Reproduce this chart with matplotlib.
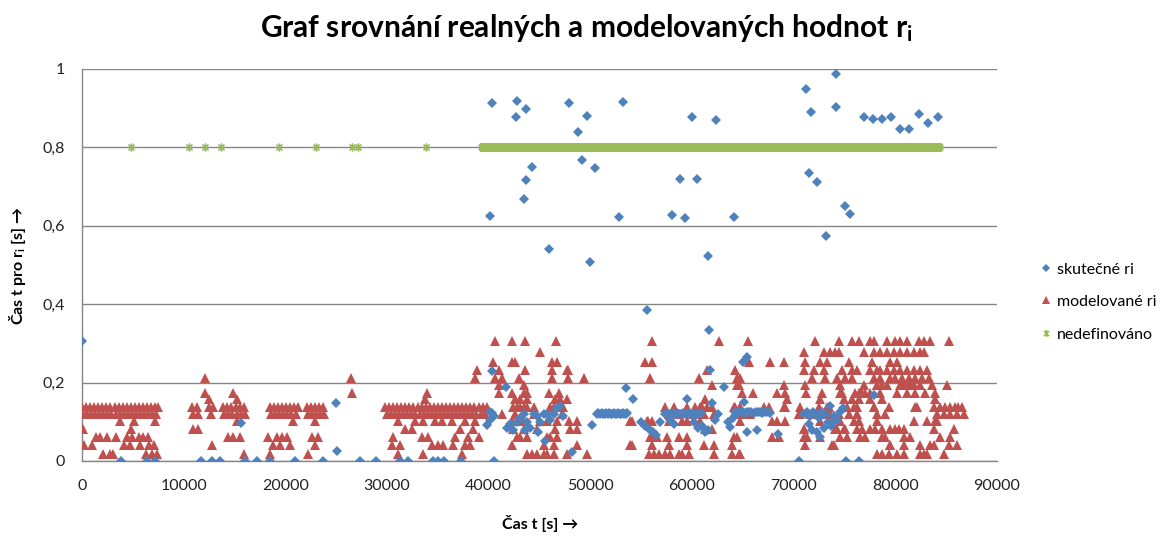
import matplotlib
matplotlib.use('Agg')
import matplotlib.pyplot as plt
from matplotlib.path import Path
from matplotlib.lines import Line2D

plt.rcParams['font.family'] = ['Lato', 'DejaVu Sans']
plt.rcParams['mathtext.default'] = 'regular'

# ---------------- data ----------------
x_ticks = [0, 10000, 20000, 30000, 40000, 50000, 60000, 70000, 80000, 90000]
x_tick_labels = ['0', '10000', '20000', '30000', '40000', '50000', '60000', '70000', '80000', '90000']
y_ticks = [0, 0.2, 0.4, 0.6, 0.8, 1.0]
y_tick_labels = ['0', '0,2', '0,4', '0,6', '0,8', '1']

# skutečné ri (blue diamonds)
blue_t = [0, 3840, 6440, 7180, 11700, 12790, 13620, 16030, 17210, 18490, 20950, 23750, 27350, 28920,
          31280, 32030, 34500, 35020, 35610, 37280, 40520, 70520, 75110, 76380,
          15630, 24950, 25050,
          40310, 40150, 42800, 43640, 42660, 44260, 43640, 43520, 45950, 47860, 48760, 49660, 49150,
          50480, 49990, 52830, 53230, 57990, 59320, 58810, 60500, 59980, 62370, 61600, 61700, 55600,
          64160, 71210, 71750, 71480, 72300, 73210, 74140, 74140, 75000, 75550,
          76920, 77810, 78640, 79540, 80440, 81380, 82320, 83220, 84150,
          39820, 40150, 40310, 40310, 40480, 40150, 41720, 42440, 42770, 43100, 43430, 43760, 44090,
          44410, 44740, 45070, 45400, 45730, 46050, 46380, 46700, 47030, 47360, 45560, 48180, 50150,
          44900, 43600, 42100, 41800,
          50650, 50800, 50950, 51100, 51250, 51400, 51550, 51700, 51850, 52000, 52150, 52300, 52450,
          52600, 52750, 52900, 53050, 53200, 53350, 53500, 53650, 53530, 54180,
          55000, 55400, 55900, 56200, 56500, 56900,
          57370, 57550, 57700, 57900, 58100, 58300, 58500, 58700, 58900, 59100, 59300, 59500, 59700,
          59900, 60100, 60300, 60500, 60700, 60900, 59500, 57800, 58200, 60200, 60600, 61000, 61300,
          61600, 61960, 61790, 63100, 62300, 62600,
          64250, 64450, 64650, 64850, 65050, 65250, 65450, 65650, 65850, 66050, 66250, 66450, 66650,
          66850, 67050, 67250, 67450, 67650, 65010, 65400, 65075, 63760, 63500, 64000, 65400, 66390,
          68500,
          70980, 71300, 71600, 71900, 72200, 72500, 72800, 73100, 73400, 73700, 74000, 74300, 74600,
          74900, 72600, 72300, 73900, 73000, 77900, 73600, 71500, 71800]
blue_r = [0.305, 0, 0, 0, 0, 0, 0, 0, 0, 0, 0, 0, 0, 0,
          0, 0, 0, 0, 0, 0, 0, 0, 0, 0,
          0.096, 0.147, 0.026,
          0.912, 0.625, 0.918, 0.897, 0.877, 0.751, 0.717, 0.669, 0.540, 0.912, 0.839, 0.880, 0.768,
          0.748, 0.508, 0.622, 0.915, 0.628, 0.619, 0.720, 0.720, 0.877, 0.870, 0.523, 0.334, 0.385,
          0.622, 0.949, 0.891, 0.734, 0.713, 0.574, 0.986, 0.904, 0.651, 0.631,
          0.877, 0.872, 0.872, 0.877, 0.846, 0.846, 0.884, 0.863, 0.877,
          0.092, 0.126, 0.230, 0.122, 0.115, 0.105, 0.188, 0.079, 0.100, 0.110, 0.120, 0.100, 0.085,
          0.120, 0.115, 0.100, 0.120, 0.120, 0.105, 0.120, 0.135, 0.140, 0.115, 0.050, 0.024, 0.092,
          0.075, 0.080, 0.095, 0.085,
          0.121, 0.123, 0.120, 0.122, 0.121, 0.119, 0.122, 0.120, 0.123, 0.121, 0.120, 0.122, 0.121,
          0.119, 0.122, 0.120, 0.121, 0.123, 0.120, 0.121, 0.122, 0.185, 0.157,
          0.100, 0.090, 0.080, 0.075, 0.066, 0.100,
          0.120, 0.122, 0.121, 0.119, 0.122, 0.120, 0.123, 0.121, 0.120, 0.122, 0.121, 0.119, 0.122,
          0.120, 0.121, 0.123, 0.120, 0.121, 0.122, 0.157, 0.105, 0.095, 0.100, 0.085, 0.090, 0.075,
          0.080, 0.149, 0.232, 0.188, 0.105, 0.120,
          0.125, 0.123, 0.126, 0.124, 0.125, 0.123, 0.126, 0.124, 0.125, 0.123, 0.126, 0.124, 0.125,
          0.123, 0.126, 0.124, 0.125, 0.123, 0.253, 0.265, 0.151, 0.087, 0.100, 0.110, 0.075, 0.080,
          0.070,
          0.120, 0.125, 0.115, 0.125, 0.120, 0.110, 0.125, 0.120, 0.100, 0.090, 0.115, 0.105, 0.125,
          0.135, 0.062, 0.075, 0.100, 0.085, 0.168, 0.140, 0.095, 0.080]

# modelované ri (red triangles): one list of times for each discrete level
red_levels = [0.018, 0.041, 0.061, 0.081, 0.103, 0.120, 0.139, 0.158, 0.174, 0.194, 0.211, 0.232,
              0.253, 0.277, 0.306]
red_t_018 = [2100, 2755, 3085, 6300, 6855, 7350, 15975, 18500, 22200, 31130, 33590, 37360, 43755,
             44250, 44740, 45400, 45730, 46380, 47690, 49660, 56220, 56710, 57370, 57860, 59010,
             59660, 55730, 58680, 62120, 63930, 64580, 64750, 78690, 80160, 82460, 82790, 83110,
             84750, 78200, 79330, 80820]
red_t_041 = [200, 950, 4165, 4720, 5710, 6625, 7085, 12760, 18830, 19480, 20465, 22900, 30470, 31290,
             34405, 35065, 35555, 36540, 37690, 38180, 42280, 45400, 46380, 48670, 54090, 56050,
             53920, 57700, 59500, 61140, 62120, 63930, 71140, 73930, 79510, 82460, 83440, 83770,
             85250, 86070, 73750, 79500, 80810]
red_t_061 = [1380, 1770, 2430, 3345, 4395, 4890, 5610, 6035, 6530, 14400, 14890, 15545, 18335,
             19155, 19645, 20140, 22600, 23250, 30635, 33420, 34080, 36700, 38015, 39000, 42770,
             43100, 43755, 45730, 46050, 46700, 56050, 56550, 55890, 57530, 58680, 59500, 64090,
             64420, 67860, 68520, 70980, 72620, 74590, 75240, 79010, 81470, 84430, 85410, 71280,
             77000, 78680, 80820, 76550]
red_t_081 = [65, 4790, 10950, 11450, 31780, 32440, 37200, 38505, 42440, 43430, 44740, 46540, 48020,
             48670, 61300, 61960, 70980, 74260, 74915, 76230, 76720, 77540, 78030, 78690, 80000,
             80330, 80820, 83770, 85740, 71000, 74100, 75080, 79500]
red_t_103 = [3740, 5120, 7180, 15220, 20795, 22900, 31130, 32770, 33590, 34735, 35390, 36375, 37690,
             38670, 42280, 42770, 43430, 45070, 45730, 46700, 47860, 48700, 54090, 55720, 56050,
             59010, 53920, 55560, 57700, 59500, 60810, 64750, 67860, 68355, 69175, 72620, 74590,
             75900, 81800, 83110, 84100, 76390, 78200, 83930]
red_t_120 = [100, 500, 900, 1300, 1700, 2100, 2500, 2900, 3300, 3700, 4100, 4500, 4900, 5300, 5700,
             6100, 6500, 6900, 7300, 10900, 11400, 12700, 14000, 14400, 14800, 15200, 15600, 16000,
             18600, 19000, 19400, 19800, 20200, 20600, 21000, 22200, 22600, 23000, 23400, 23800,
             30000, 30400, 30800, 31200, 31600, 32000, 32400, 32800, 33200, 33600, 34000, 34400,
             34800, 35200, 35600, 36000, 36400, 36800, 37200, 37600, 38000, 38400, 38800, 39200,
             39600, 41300, 42600, 44410, 47200, 57700, 58700, 60100, 61000, 61140, 62120, 64090,
             64580, 65075, 65730, 70490, 71635, 72620, 73275, 74420, 75400, 78200, 79015, 84100,
             84750, 85410, 86070, 86720, 70500, 72420, 73550, 76230]
red_t_139 = [0, 400, 800, 1200, 1600, 2000, 2400, 2800, 3200, 3600, 4000, 4400, 4800, 5200, 5600,
             6000, 6400, 6800, 7200, 7450, 10800, 11300, 12500, 12900, 13900, 14300, 14700, 15100,
             15500, 15900, 18500, 18900, 19300, 19700, 20100, 20500, 20900, 21200, 22100, 22500,
             22900, 23300, 23700, 29800, 30200, 30600, 31000, 31400, 31800, 32200, 32600, 33000,
             33400, 33800, 34200, 34600, 35000, 35400, 35800, 36200, 36600, 37000, 37400, 37800,
             38200, 38600, 39000, 39400, 39800, 42440, 42770, 43100, 43430, 43755, 44410, 46380,
             47360, 46050, 46870, 57370, 58190, 59500, 60320, 60810, 61450, 64090, 64750, 67040,
             67530, 60975, 61960, 64255, 64745, 69175, 70650, 72455, 73440, 75240, 75900, 76230,
             77865, 79340, 81966, 83770, 84420, 84920, 85400, 85900, 86200, 86600, 69010, 73270,
             77870, 82130]
red_t_158 = [15220, 33750, 42610, 43100, 43755, 46540, 47030, 47690, 61300, 69340, 72620, 74910,
             75730, 76390, 77540, 78680, 83930, 12500]
red_t_174 = [12100, 14890, 26535, 33915, 40970, 42280, 43430, 43755, 45890, 46870, 64910, 69170,
             72780, 74750, 76390, 76720, 77540, 78520, 80160, 81960, 82950, 83930, 66000, 68350,
             71240, 74590, 76060, 76550, 77050, 81150]
red_t_194 = [40970, 43430, 61960, 64420, 64580, 69010, 71140, 74590, 76880, 78200, 80490, 81140,
             81470, 82450, 83600, 78190, 78690, 79180, 80820, 81800, 85080]
red_t_211 = [12100, 26500, 38670, 40640, 41295, 42935, 46215, 47850, 49330, 55890, 60650, 64420,
             64750, 71800, 73110, 74260, 75080, 75730, 77870, 78520, 79500, 80000, 80650, 81300,
             81960, 82620, 83270]
red_t_232 = [38835, 40970, 43590, 46215, 47700, 47850, 61470, 64250, 70980, 71960, 72940, 74750,
             75730, 76230, 77540, 78200, 78520, 79180, 79840, 80490, 81140, 81800, 82450, 83100]
red_t_253 = [40475, 42280, 42610, 46215, 46705, 55400, 56050, 65570, 67700, 69010, 71140, 72620,
             73275, 75400, 77700, 79500, 80160]
red_t_277 = [45070, 70980, 72940, 73600, 74100, 74420, 76880, 77870, 78520, 79180, 79840, 80490,
             81140, 81800, 82450, 82780]
red_t_306 = [40640, 42280, 43590, 46640, 56050, 62610, 65500, 72120, 74420, 75730, 76390, 77540,
             77870, 79180, 80000, 80490, 81140, 82290, 82780, 83440, 85240]
red_times = [red_t_018, red_t_041, red_t_061, red_t_081, red_t_103, red_t_120, red_t_139,
             red_t_158, red_t_174, red_t_194, red_t_211, red_t_232, red_t_253, red_t_277, red_t_306]

# nedefinováno (green stars) at 0.8: isolated instants, then the dense run
green_value = 0.8
green_t_isolated = [4820, 10530, 12100, 13680, 19380, 23030, 26570, 27160, 33850]
green_t_run = [
    39300, 39600, 39900, 40200, 40500, 40800, 41100, 41400, 41700, 42000, 42300, 42600, 42900, 43200, 43500,
    43800, 44100, 44400, 44700, 45000, 45300, 45600, 45900, 46200, 46500, 46800, 47100, 47400, 47700, 48000,
    48300, 48600, 48900, 49200, 49500, 49800, 50100, 50400, 50700, 51000, 51300, 51600, 51900, 52200, 52500,
    52800, 53100, 53400, 53700, 54000, 54300, 54600, 54900, 55200, 55500, 55800, 56100, 56400, 56700, 57000,
    57300, 57600, 57900, 58200, 58500, 58800, 59100, 59400, 59700, 60000, 60300, 60600, 60900, 61200, 61500,
    61800, 62100, 62400, 62700, 63000, 63300, 63600, 63900, 64200, 64500, 64800, 65100, 65400, 65700, 66000,
    66300, 66600, 66900, 67200, 67500, 67800, 68100, 68400, 68700, 69000, 69300, 69600, 69900, 70200, 70500,
    70800, 71100, 71400, 71700, 72000, 72300, 72600, 72900, 73200, 73500, 73800, 74100, 74400, 74700, 75000,
    75300, 75600, 75900, 76200, 76500, 76800, 77100, 77400, 77700, 78000, 78300, 78600, 78900, 79200, 79500,
    79800, 80100, 80400, 80700, 81000, 81300, 81600, 81900, 82200, 82500, 82800, 83100, 83400, 83700, 84000,
    84300]

series_labels = ['skutečné ri', 'modelované ri', 'nedefinováno']

# ---------------- drawing ----------------
BLUE = '#4F81BD'
RED = '#C0504D'
GREEN = '#9BBB59'
GRID = '#868686'

fig = plt.figure(figsize=(11.69, 5.37), dpi=100)
ax = fig.add_axes([82 / 1169, 1 - 461 / 537, (997 - 82) / 1169, (461 - 69) / 537])

red_x, red_y = [], []
for lvl, ts in zip(red_levels, red_times):
    red_x.extend(ts)
    red_y.extend([lvl] * len(ts))

star = Path([(0, -1), (0, 1), (-0.72, -0.72), (0.72, 0.72), (-0.72, 0.72), (0.72, -0.72)],
            [Path.MOVETO, Path.LINETO, Path.MOVETO, Path.LINETO, Path.MOVETO, Path.LINETO])

h_red, = ax.plot(red_x, red_y, linestyle='none', marker='^', ms=7.4, color=RED,
                 markeredgewidth=0, zorder=3)
h_blue, = ax.plot(blue_t, blue_r, linestyle='none', marker='D', ms=4.6, color=BLUE,
                  markeredgewidth=0, zorder=4)
h_green, = ax.plot(green_t_isolated, [green_value] * len(green_t_isolated), linestyle='none',
                   marker=star, ms=6.0, color=GREEN, markeredgewidth=1.2, markerfacecolor='none',
                   zorder=5)
ax.plot(green_t_run, [green_value] * len(green_t_run), linestyle='none', marker=star, ms=6.5,
        color=GREEN, markeredgewidth=2.4, markerfacecolor='none', zorder=5)

ax.set_xlim(0, 90000)
ax.set_ylim(0, 1)
ax.set_xticks(x_ticks)
ax.set_xticklabels(x_tick_labels)
ax.set_yticks(y_ticks)
ax.set_yticklabels(y_tick_labels)
ax.tick_params(length=0, labelsize=11.5, colors='#222222')
ax.tick_params(axis='x', pad=13)
ax.tick_params(axis='y', pad=12)
ax.yaxis.grid(True, color=GRID, linewidth=1.0)
ax.set_axisbelow(True)
for s in ['top', 'right']:
    ax.spines[s].set_visible(False)
for s in ['left', 'bottom']:
    ax.spines[s].set_color(GRID)
    ax.spines[s].set_linewidth(1.0)

fig.text(0.502, 0.948, 'Graf srovnání realných a modelovaných hodnot r$_{i}$',
         ha='center', va='center', fontsize=21.5, fontweight='bold')
fig.text(540 / 1169, 1 - 523 / 537, 'Čas t [s] →', ha='center', va='center',
         fontsize=11.5, fontweight='bold')
fig.text(18 / 1169, 1 - 265 / 537, 'Čas t pro r$_{i}$ [s] →', ha='center', va='center',
         rotation=90, fontsize=11.5, fontweight='bold')

leg = fig.legend([h_blue, h_red, h_green], series_labels, loc='center left',
                 bbox_to_anchor=(1025 / 1169, 1 - 302 / 537), frameon=False, fontsize=11.5,
                 handlelength=0.8, handletextpad=0.3, labelspacing=1.15, markerscale=0.85)

fig.savefig('out.png', dpi=100)
